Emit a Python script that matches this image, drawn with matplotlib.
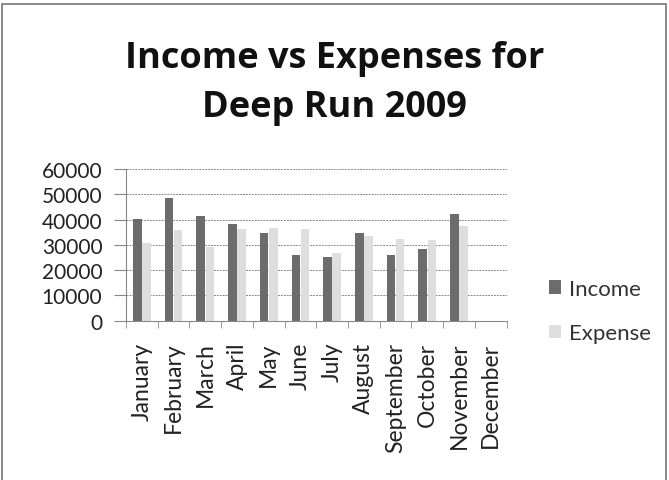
import numpy as np
import matplotlib.pyplot as plt
from matplotlib.patches import Rectangle

months = ['January', 'February', 'March', 'April', 'May', 'June', 'July',
          'August', 'September', 'October', 'November', 'December']
income = [40300, 48700, 41500, 38100, 34800, 25800, 25300,
          34800, 25800, 28200, 42100, 0]
expense = [30600, 35700, 29100, 36100, 36700, 36400, 26900,
           33500, 32400, 32000, 37600, 0]
yticks = [0, 10000, 20000, 30000, 40000, 50000, 60000]

plt.rcParams['font.family'] = ['Lato', 'DejaVu Sans']

fig = plt.figure(figsize=(6.69, 4.81), dpi=100)
ax = fig.add_axes([0.1883, 0.3312, 0.569, 0.3154])

x = np.arange(len(months))
w = 0.27
ax.bar(x - 0.145, income, w, color='#6c6c6c', label='Income', zorder=2)
ax.bar(x + 0.145, expense, w, color='#dedede', label='Expense', zorder=2)

ax.set_xlim(-0.5, 11.5)
ax.set_ylim(0, 60000)
ax.set_yticks(yticks)
ax.set_yticklabels([str(v) for v in yticks], fontsize=15, color='#222222')
ax.set_xticks(x)
ax.set_xticklabels(months, rotation=90, fontsize=16.5, color='#222222')
ax.set_xticks(np.arange(-0.5, 12, 1), minor=True)
ax.tick_params(axis='x', which='major', length=0, pad=15)
ax.tick_params(axis='x', which='minor', length=5, color='#888888')
ax.tick_params(axis='y', length=9, color='#888888', pad=8)

ax.grid(axis='y', color='#8a8a8a', linestyle=(0, (2, 1)), linewidth=0.7, zorder=1)
for s in ['top', 'right']:
    ax.spines[s].set_visible(False)
ax.spines['left'].set_color('#888888')
ax.spines['bottom'].set_color('#888888')
ax.spines['left'].set_linestyle((0, (2, 1)))

leg = fig.legend(loc='upper left', bbox_to_anchor=(0.79, 0.46), frameon=False,
                 fontsize=16, handlelength=0.55, handleheight=0.55,
                 labelspacing=1.1, handletextpad=0.35)
for t in leg.get_texts():
    t.set_color('#333333')

fig.text(0.5, 0.8586, 'Income vs Expenses for', ha='center', va='baseline',
         fontsize=26, fontweight='bold', color='#111111', family='Open Sans')
fig.text(0.5, 0.7568, 'Deep Run 2009', ha='center', va='baseline',
         fontsize=26, fontweight='bold', color='#111111', family='Open Sans')

fig.patches.append(Rectangle((0.003, -0.01), 0.992, 1.0, transform=fig.transFigure,
                             fill=False, edgecolor='#777777', linewidth=1.2))

fig.savefig('out.png', dpi=100)
